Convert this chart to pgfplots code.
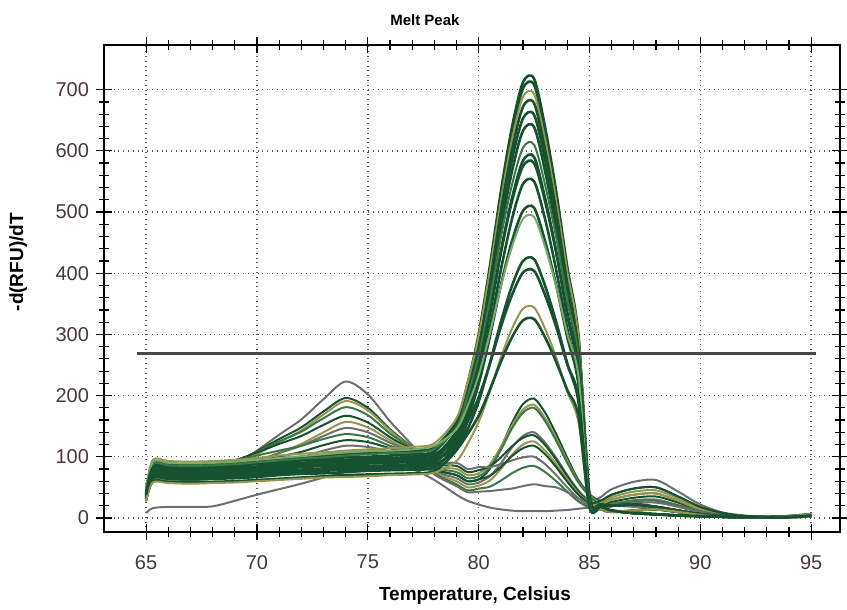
\documentclass[border=0pt]{standalone}
\usepackage{pgfplots}
\usepackage{pgfplotstable}
\pgfplotsset{compat=1.18}
\usepackage{fontspec}
\setmainfont{Liberation Sans}
\definecolor{dg}{RGB}{22,82,48}
\definecolor{mg}{RGB}{60,120,70}
\definecolor{ol}{RGB}{150,150,80}
\definecolor{lg}{RGB}{120,170,110}
\definecolor{gr}{RGB}{110,110,110}
\definecolor{tickc}{RGB}{70,55,60}
\definecolor{thr}{RGB}{70,70,70}

\pgfplotstableread[header=false]{
x 65 65.3 66 67 68 69 70 71 72 73 74 75 76 77 78 79 79.5 80 80.5 81 81.5 82 82.5 83 83.5 84 84.5 85 85.5 86 87 88 89 90 91 92 93 94 95
A1 45 90 88 87 88 90 93 96 99 102 104 106 108 110 115 158 220 300 410 533 638 712 718 638 533 410 300 37 18 12 8 6 4 3 2 1 1 2 4
A2 43 85 83 82 83 85 88 91 94 96 99 100 102 104 109 152 213 292 402 524 628 702 708 628 524 402 292 36 22 20 22 18 12 6 3 2 1 2 5
A3 48 95 93 92 93 95 98 102 105 107 110 112 114 116 122 163 221 297 402 518 618 688 693 618 518 402 297 35 15 10 12 14 10 5 2 1 1 3 6
A4 38 75 74 73 74 75 77 80 83 85 87 89 90 92 96 138 197 274 381 500 601 672 678 601 500 381 274 35 18 12 8 6 4 3 2 1 1 2 4
A5 40 80 78 78 78 80 82 86 88 90 93 94 96 98 102 142 199 272 375 488 585 653 659 585 488 375 272 34 22 20 22 18 12 6 3 2 1 2 5
A6 35 70 69 68 69 70 72 75 77 79 81 83 84 85 90 129 185 258 359 471 566 633 639 566 471 359 258 33 15 10 12 14 10 5 2 1 1 3 6
A7 44 88 86 85 86 88 91 94 97 99 102 104 106 107 113 148 199 265 356 458 544 605 610 544 458 356 265 31 18 12 8 6 4 3 2 1 1 2 4
A8 33 65 64 63 64 65 67 70 72 73 75 77 78 79 83 119 171 238 331 435 522 584 590 522 435 331 238 30 22 20 22 18 12 6 3 2 1 2 5
A9 39 78 76 76 76 78 80 83 86 88 90 92 94 95 100 134 183 247 335 433 517 575 580 517 433 335 247 30 15 10 12 14 10 5 2 1 1 3 6
A10 30 60 59 58 59 60 62 64 66 68 70 71 72 73 77 111 159 222 309 405 488 546 550 488 405 309 222 28 18 12 8 6 4 3 2 1 1 2 4
A11 36 72 71 70 71 72 74 77 79 81 84 85 86 88 92 122 164 219 295 380 452 502 507 452 380 295 219 26 22 20 22 18 12 6 3 2 1 2 5
A12 46 92 90 89 90 92 95 98 101 104 107 109 110 112 118 145 183 233 301 378 443 489 492 443 378 301 233 25 15 10 12 14 10 5 2 1 1 3 6
A13 34 68 67 66 67 68 70 73 75 77 79 80 82 83 87 111 145 190 252 320 379 420 423 379 320 252 190 22 18 12 8 6 4 3 2 1 1 2 4
A14 41 82 80 80 80 82 84 88 90 93 95 97 98 100 105 126 157 197 251 312 364 401 404 364 312 251 197 21 22 20 22 18 12 6 3 2 1 2 5
A15 29 58 57 56 57 58 60 62 64 66 67 68 70 71 74 93 121 157 206 262 309 342 344 309 262 206 157 18 15 10 12 14 10 5 2 1 1 3 6
A16 38 76 74 74 74 76 78 81 84 86 88 90 91 93 97 113 137 167 209 255 295 323 325 295 255 209 167 17 18 12 8 6 4 3 2 1 1 2 4
B1 27 60 60 62 65 85 110 136 161 194 223 202 158 119 78 65 55 58 68 89 115 134 140 123 98 70 45 28 34 47 59 62 43 22 9 4 2 1 3
B2 32 70 70 72 75 90 109 129 148 174 196 180 145 115 80 70 60 63 80 114 155 186 195 172 137 98 62 39 28 38 48 50 35 18 8 3 2 1 3
B3 29 65 65 67 70 85 104 124 143 169 191 176 143 114 85 80 70 73 87 116 151 177 185 163 130 93 59 37 25 34 43 45 32 16 7 3 2 1 2
B4 34 75 75 77 80 92 108 125 141 163 181 168 138 113 83 75 65 68 82 111 146 172 180 158 126 90 58 36 22 30 38 40 28 14 6 2 2 1 3
B5 36 80 80 82 85 94 107 121 134 152 167 156 132 111 88 85 75 78 84 99 117 131 135 119 95 68 43 27 19 26 33 35 25 12 5 2 1 1 2
B6 28 62 62 64 67 77 91 106 121 140 157 148 127 109 75 60 50 53 61 80 103 120 125 110 88 63 40 25 22 30 38 40 28 14 6 2 2 1 2
B7 32 70 70 72 75 82 94 106 118 134 147 140 123 108 90 90 80 83 83 88 94 99 100 88 70 50 32 20 17 23 29 30 21 11 5 2 1 1 2
B8 38 85 85 87 90 93 102 110 118 129 137 132 118 106 73 55 45 48 51 61 73 82 85 75 60 43 27 17 15 21 27 28 20 10 4 2 1 1 2
B9 34 75 75 77 80 83 92 100 108 119 127 124 114 105 80 70 60 63 69 83 101 114 118 104 83 59 38 24 28 38 48 50 35 18 8 3 2 1 3
B10 31 68 68 70 73 76 84 91 99 110 118 116 109 103 71 52 42 43 44 46 48 52 55 52 50 42 32 22 14 19 24 25 18 9 4 2 1 1 2
C 8 16 18 18 19 28 38 47 56 66 75 82 86 80 62 38 28 22 17 14 12 11 11 11 12 13 15 17 19 20 18 14 9 5 3 2 1 1 2
}\raw
\pgfplotstabletranspose[colnames from=0]\curves\raw

\begin{document}
\begin{tikzpicture}
\begin{axis}[
  scale only axis, width=368pt, height=243.5pt,
  xmin=63.1, xmax=96.3, ymin=-23, ymax=773,
  xtick={65,70,...,95}, ytick={0,100,...,700},
  minor x tick num=4, minor y tick num=4,
  tick align=center, major tick length=8pt, minor tick length=5pt,
  tick style={black, line width=0.6pt},
  grid=major, major grid style={dotted, black!65, line width=0.7pt},
  axis line style={line width=0.9pt},
  /pgf/number format/assume math mode=true,
  ticklabel style={font=\fontsize{10}{12}\selectfont, text=tickc},
  xticklabel style={yshift=-4pt},
  title={Melt Peak},
  title style={at={(0.436,1.016)}, anchor=base, font=\bfseries\fontsize{7.5}{9}\selectfont},
  xlabel={Temperature, Celsius},
  xlabel style={at={(0.504,-0.1396)}, anchor=base, font=\bfseries\fontsize{9.5}{11}\selectfont},
  ylabel={-d(RFU)/dT},
  ylabel style={at={(-0.110,0.554)}, anchor=base, font=\bfseries\fontsize{9.5}{11}\selectfont},
  every axis plot/.append style={smooth, tension=0.5, line width=1pt},
]
\addplot[gr] table[x=x,y=C]{\curves};
\addplot[gr] table[x=x,y=B1]{\curves};
\addplot[dg] table[x=x,y=B2]{\curves};
\addplot[ol] table[x=x,y=B3]{\curves};
\addplot[mg] table[x=x,y=B4]{\curves};
\addplot[dg] table[x=x,y=B5]{\curves};
\addplot[ol] table[x=x,y=B6]{\curves};
\addplot[gr] table[x=x,y=B7]{\curves};
\addplot[mg] table[x=x,y=B8]{\curves};
\addplot[dg] table[x=x,y=B9]{\curves};
\addplot[gr] table[x=x,y=B10]{\curves};
\addplot[dg, line width=1.3pt] table[x=x,y=A1]{\curves};
\addplot[dg, line width=1.3pt] table[x=x,y=A2]{\curves};
\addplot[ol] table[x=x,y=A3]{\curves};
\addplot[dg, line width=1.3pt] table[x=x,y=A4]{\curves};
\addplot[dg, line width=1.3pt] table[x=x,y=A5]{\curves};
\addplot[dg, line width=1.3pt] table[x=x,y=A6]{\curves};
\addplot[mg] table[x=x,y=A7]{\curves};
\addplot[dg, line width=1.3pt] table[x=x,y=A8]{\curves};
\addplot[dg, line width=1.3pt] table[x=x,y=A9]{\curves};
\addplot[dg, line width=1.3pt] table[x=x,y=A10]{\curves};
\addplot[dg, line width=1.3pt] table[x=x,y=A11]{\curves};
\addplot[lg] table[x=x,y=A12]{\curves};
\addplot[dg, line width=1.3pt] table[x=x,y=A13]{\curves};
\addplot[dg, line width=1.3pt] table[x=x,y=A14]{\curves};
\addplot[ol] table[x=x,y=A15]{\curves};
\addplot[dg, line width=1.3pt] table[x=x,y=A16]{\curves};
\addplot[thr, line width=1.5pt, sharp plot] coordinates {(64.6,268) (95.2,268)};
\end{axis}
\pgfresetboundingbox
\path ([shift={(-52pt,-38.5pt)}]current axis.south west) rectangle ([shift={(3.5pt,22.5pt)}]current axis.north east);
\end{tikzpicture}
\end{document}
